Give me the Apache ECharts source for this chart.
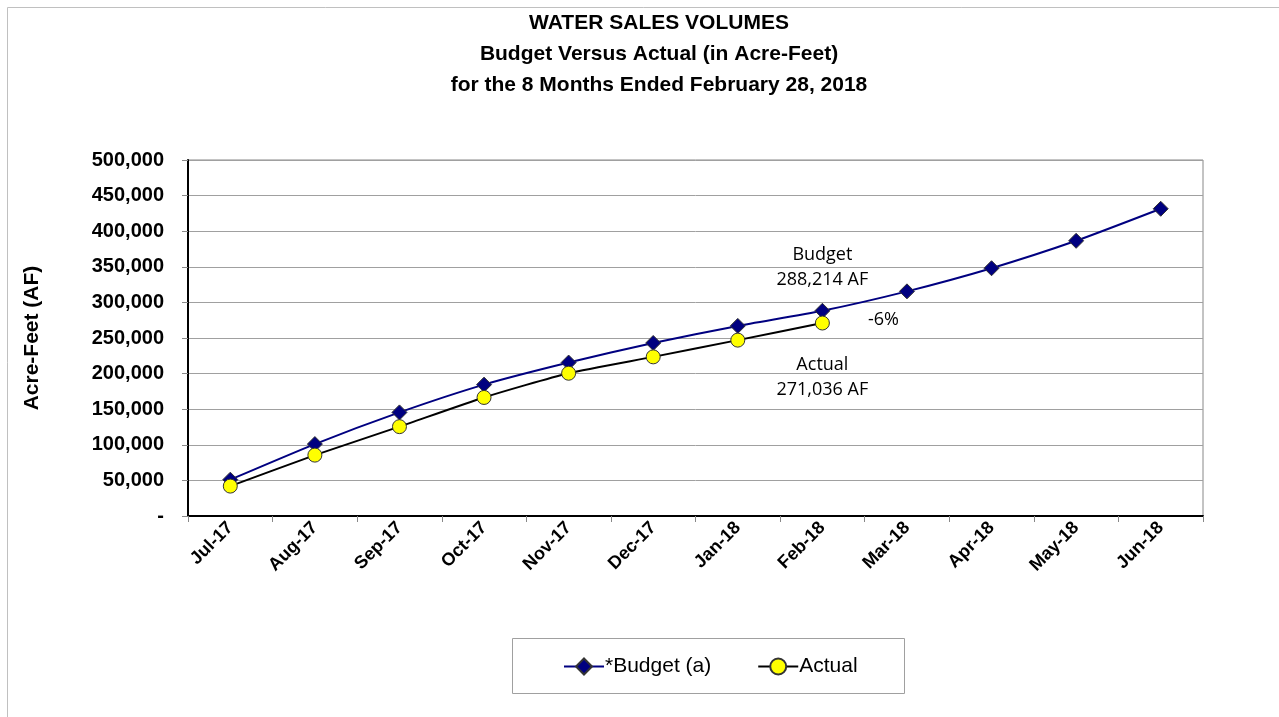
<!DOCTYPE html>
<html>
<head>
<meta charset="utf-8">
<script src="https://cdn.jsdelivr.net/npm/echarts@6/dist/echarts.min.js"></script>
<style>
html,body{margin:0;padding:0;background:#fff;}
#chart{width:1279px;height:717px;}
</style>
</head>
<body>
<div id="chart"></div>
<script>
const months = ['Jul-17','Aug-17','Sep-17','Oct-17','Nov-17','Dec-17','Jan-18','Feb-18','Mar-18','Apr-18','May-18','Jun-18'];
const budget = [51000, 101000, 145500, 184500, 215500, 243000, 267000, 288214, 315500, 348000, 386500, 431500];
const actual = [42000, 85500, 125500, 166500, 200500, 223500, 247000, 271036];
const yTicks = { min: 0, max: 500000, interval: 50000 };
const titleLines = ['WATER SALES VOLUMES', 'Budget Versus Actual (in Acre-Feet)', 'for the 8 Months Ended February 28, 2018'];
const budgetNote = 'Budget\n288,214 AF';
const actualNote = 'Actual\n271,036 AF';
const varianceNote = '-6%';

const FONT = '"Liberation Sans", Arial, sans-serif';
const NOTE_FONT = '"Open Sans", "Noto Sans", sans-serif';
const lastIdx = actual.length - 1;

const budgetData = budget.map((v, i) => i === lastIdx ? {
  value: v,
  label: { show: true, position: 'top', distance: 10, formatter: budgetNote,
    fontFamily: NOTE_FONT, fontSize: 18, lineHeight: 25, color: '#000', align: 'center' }
} : v);
const actualData = actual.map((v, i) => i === lastIdx ? {
  value: v,
  label: { show: true, position: 'bottom', distance: 22, formatter: actualNote,
    fontFamily: NOTE_FONT, fontSize: 18, lineHeight: 25, color: '#000', align: 'center' }
} : v);

const chart = echarts.init(document.getElementById('chart'), null, { renderer: 'canvas' });
chart.setOption({
  animation: false,
  backgroundColor: '#fff',
  title: {
    text: titleLines.join('\n'),
    left: 654, top: 3, textAlign: 'center',
    textStyle: { fontFamily: FONT, fontWeight: 'bold', fontSize: 21, lineHeight: 31, color: '#000' }
  },
  graphic: [
    { type: 'rect', shape: { x: 7.5, y: 7.5, width: 1300, height: 800 }, style: { fill: 'none', stroke: '#c0c0c0', lineWidth: 1 }, z: -10 },
    { type: 'rect', shape: { x: 512.5, y: 638.5, width: 392, height: 55 }, style: { fill: '#fff', stroke: '#a0a0a0', lineWidth: 1 }, z: -5 }
  ],
  legend: {
    left: 558, top: 651,
    itemWidth: 40, itemHeight: 20, itemGap: 46,
    textStyle: { fontFamily: FONT, fontSize: 21, color: '#000', padding: [0, 0, 0, -4] },
    data: ['*Budget (a)', 'Actual']
  },
  grid: { left: 188, top: 160, right: 76, bottom: 201, show: true, borderColor: '#888', borderWidth: 1 },
  xAxis: {
    type: 'category', data: months, boundaryGap: true,
    axisLine: { show: true, lineStyle: { color: '#000', width: 2 } },
    axisTick: { show: true, length: 6, lineStyle: { color: '#888' } },
    axisLabel: { rotate: 45, margin: 9, fontFamily: FONT, fontWeight: 'bold', fontSize: 18, color: '#000' }
  },
  yAxis: {
    type: 'value', min: yTicks.min, max: yTicks.max, interval: yTicks.interval,
    name: 'Acre-Feet (AF)', nameLocation: 'middle', nameGap: 145, nameRotate: 90,
    nameTextStyle: { fontFamily: FONT, fontWeight: 'bold', fontSize: 21, color: '#000' },
    axisLine: { show: true, lineStyle: { color: '#000', width: 2 } },
    axisTick: { show: true, length: 6, lineStyle: { color: '#888' } },
    splitLine: { show: true, lineStyle: { color: '#a0a0a0', width: 1 } },
    axisLabel: {
      margin: 24, fontFamily: FONT, fontWeight: 'bold', fontSize: 20, color: '#000',
      formatter: v => v === 0 ? '-' : v.toLocaleString('en-US')
    }
  },
  series: [
    {
      name: '*Budget (a)', type: 'line', data: budgetData, smooth: 0.2,
      symbol: 'diamond', symbolSize: 15,
      lineStyle: { color: '#000080', width: 2 },
      itemStyle: { color: '#000080', borderColor: '#333', borderWidth: 1 },
      z: 3
    },
    {
      name: 'Actual', type: 'line', data: actualData, smooth: 0.2,
      symbol: 'circle', symbolSize: 14,
      lineStyle: { color: '#000', width: 2 },
      itemStyle: { color: '#ffff00', borderColor: '#333', borderWidth: 1 },
      markPoint: {
        symbol: 'circle', symbolSize: 1, itemStyle: { color: 'rgba(0,0,0,0)' },
        data: [{ coord: [months[lastIdx], actual[lastIdx]], value: varianceNote,
          label: { show: true, formatter: varianceNote, position: 'inside', offset: [61, -3],
            fontFamily: NOTE_FONT, fontSize: 18, color: '#000' } }]
      },
      z: 4
    }
  ]
});
</script>
</body>
</html>
